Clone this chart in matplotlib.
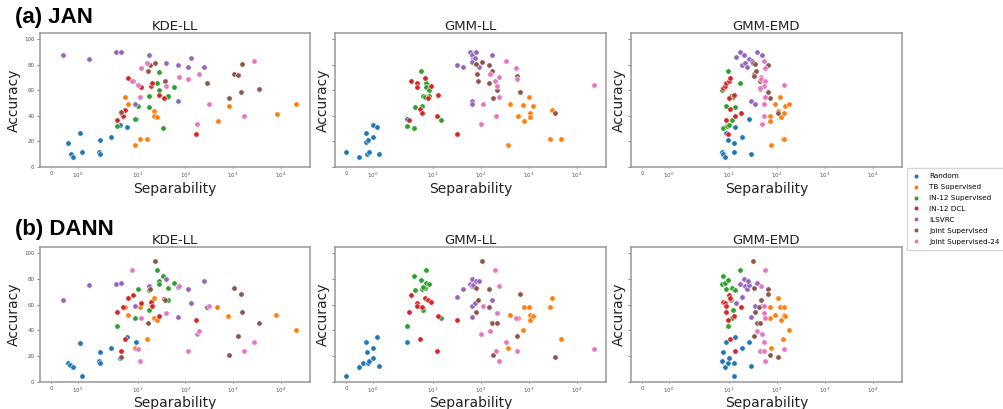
import matplotlib
matplotlib.use("Agg")
import matplotlib.pyplot as plt
from matplotlib.lines import Line2D
from matplotlib.ticker import NullLocator

GROUPS = ["Random", "TB Supervised", "IN-12 Supervised", "IN-12 DCL",
          "ILSVRC", "Joint Supervised", "Joint Supervised-24"]
COLORS = ["#1f77b4", "#ff7f0e", "#2ca02c", "#d62728",
          "#9467bd", "#8c564b", "#e377c2"]

X_TICKS = [0, 1, 10, 100, 1000, 10000]
X_TICK_LABELS = ["0", "$10^0$", "$10^1$", "$10^2$", "$10^3$", "$10^4$"]
Y_TICKS = [0, 20, 40, 60, 80, 100]

# ---- (a) JAN ----
jan_kde_sep = [
    [0.62, 0.74, 0.82, 1.1, 1.17, 1.8, 1.85, 1.85, 2.75, 4.3, 6.0, 9.3],
    [5.4, 6.3, 8.7, 11.3, 15.8, 22.6, 22, 25, 485, 815, 8150, 21000],
    [3.67, 8.7, 10.2, 17.2, 17.8, 25, 27.8, 28.5, 33.7, 43, 43, 57],
    [3.67, 4.6, 4.9, 5.4, 6.3, 8.0, 12, 19, 20.5, 27.8, 35.5, 168],
    [0.44, 1.43, 3.56, 4.4, 17.2, 39.6, 70.6, 132, 112, 251, 70.6, 8.7],
    [4.4, 16.6, 18.3, 23, 38.3, 282, 838, 1070, 1280, 1520, 1450, 3550],
    [7.7, 10.2, 11, 12, 15.8, 39.6, 75, 112, 191, 175, 310, 1700, 2760],
]
jan_kde_acc = [
    [19, 10.4, 7.8, 26.8, 12, 12, 10, 20.8, 23.2, 32.8, 31, 38],
    [54.7, 49.7, 17.2, 22, 22, 44, 40, 39, 36, 48, 41.7, 49],
    [32, 37.5, 48, 47, 55.7, 65.6, 60.4, 74.7, 30.2, 55, 56, 62.8],
    [37, 42.2, 39.8, 45, 69.8, 67.2, 62.8, 63.8, 65.9, 56.8, 54, 26],
    [88, 85, 90, 90, 88, 81.8, 80, 85.4, 78.4, 78.4, 52, 49],
    [43, 75, 79.7, 81.8, 67, 65.6, 54, 73, 72, 80.7, 58.9, 61],
    [67, 64.6, 54.7, 77.6, 81.3, 63.8, 70.6, 68.8, 73, 33.9, 49.7, 39.8, 82.8],
]

jan_gll_sep = [
    [0, 0.49, 0.74, 0.74, 0.8, 0.85, 0.83, 1.0, 1.0, 1.14, 1.22, 2.84],
    [364, 413, 608, 760, 790, 1000, 1050, 1080, 1230, 2760, 3130, 4750],
    [2.84, 4.0, 4.3, 5.66, 5.9, 6.3, 6.8, 7.2, 7.2, 8.1, 8.2, 14.6],
    [3.1, 3.5, 4.7, 4.7, 5.5, 6.0, 7.0, 9.0, 8.0, 12.7, 12.3, 32.6],
    [31.6, 42, 60, 64, 69, 75, 67, 80, 90, 175, 67, 65],
    [78, 82, 88, 107, 150, 145, 174, 215, 180, 562, 660, 3550],
    [99, 112, 154, 200, 215, 205, 234, 240, 330, 550, 560, 22600],
]
jan_gll_acc = [
    [12, 8, 19.3, 26.8, 10.4, 12, 20.8, 23.4, 32.8, 31.2, 10.4, 38],
    [17.2, 49.7, 40, 48.7, 36, 54.7, 42, 39, 48, 22, 44.3, 22],
    [32, 30.2, 46.9, 75, 48, 55.7, 55, 65.9, 62.8, 55.7, 60, 37.2],
    [37.2, 67.2, 65.9, 62.8, 45.3, 42.7, 69.8, 63.8, 54, 56.8, 40.1, 26],
    [80, 78.4, 90, 88, 84.4, 85.4, 82.3, 90, 78.4, 88, 52, 49],
    [81, 73, 67, 82, 79.7, 65.9, 75, 60.7, 54, 71.4, 59, 42.7],
    [33.9, 49.7, 73, 67.2, 63.5, 39.8, 54.7, 70.6, 82.8, 77.6, 68.8, 64.6],
]

jan_emd_sep = [
    [7.1, 7.4, 8.1, 8.6, 9.8, 10.2, 13.1, 12.9, 12.9, 19.2, 25.7, 28.3],
    [74, 71, 71, 93, 107, 114, 122, 134, 141, 144, 146, 177],
    [7.1, 8.1, 8.6, 7.4, 9.5, 9.3, 10.2, 11.7, 11.2, 12.2, 13.4, 16.7],
    [7.4, 8.1, 8.6, 10.2, 10.7, 10.2, 12.7, 10.7, 13.4, 17.7, 8.6, 9.8],
    [14.4, 16.8, 20.5, 19.2, 21.5, 23.7, 26.5, 37.7, 48.6, 29.6, 35.8, 30],
    [32.6, 35.8, 34, 36.6, 34, 43.7, 44, 65, 65, 71, 108, 47],
    [54, 56, 47, 46, 56, 53, 58, 54, 53, 49.6, 144, 44],
]
jan_emd_acc = [
    [12, 10.4, 7.8, 27, 20.8, 32.8, 31.2, 19, 12, 23.2, 38, 10.2],
    [17.2, 39.8, 36, 49.7, 43.5, 54.7, 39, 22, 22, 42, 48, 49],
    [60, 62.8, 48, 30.2, 75, 32, 32.8, 37.2, 55.7, 55, 46.9, 65.9],
    [62, 63.8, 65.9, 67.2, 69.8, 54, 56.8, 45.3, 39.8, 42.7, 37.2, 26],
    [86, 90, 88, 80, 81.8, 78.4, 84.6, 90, 88, 52, 49, 83],
    [81.8, 81, 73, 75, 71.4, 67, 61, 80, 59, 54, 42.7, 69.5],
    [82.8, 77.6, 70.6, 68.8, 67.2, 63.8, 54.7, 49.7, 39.8, 33.9, 64.6, 62],
]

# ---- (b) DANN ----
dann_kde_sep = [
    [0.62, 0.72, 0.82, 1.1, 1.17, 1.8, 1.85, 1.85, 2.75, 4.3, 6.0, 9.3],
    [5.4, 6.3, 8.7, 11.3, 15.8, 22.6, 22, 25, 470, 787, 7950, 21000],
    [3.67, 8.7, 10.2, 17.2, 17.8, 25, 28.5, 27.8, 33.7, 43, 43, 57],
    [3.67, 4.9, 4.6, 5.4, 6.3, 7.9, 12, 19, 20.5, 27.8, 35.5, 168],
    [0.44, 1.43, 3.56, 4.4, 17.2, 39.6, 70.6, 70.6, 132, 112, 251, 8.7],
    [4.4, 16.6, 18.3, 23, 38.3, 282, 838, 1070, 1280, 1450, 1520, 3550],
    [7.7, 10.2, 11, 12, 39.6, 75, 112, 175, 191, 310, 1700, 2760],
]
dann_kde_acc = [
    [14.3, 12.8, 11.5, 30.2, 4.4, 16.4, 14.3, 23.4, 26.3, 18.2, 34.4, 31.2],
    [58, 52, 26.3, 58, 33.3, 64.8, 49.5, 48, 58, 51, 52, 40],
    [43.2, 49.2, 72, 71.4, 56, 87, 78, 76.3, 82.3, 73.2, 63.3, 77],
    [54.2, 58, 24.2, 33.6, 65, 67.2, 61.2, 62.2, 59, 51, 64.3, 48.2],
    [63.3, 75.3, 76.3, 77, 74.2, 80.2, 73.7, 50, 61.2, 72.1, 78, 59],
    [19.3, 45.3, 72.1, 94, 63.3, 58, 21, 73.2, 35.2, 68.2, 54.2, 45.3],
    [87.2, 25.3, 16.4, 49.2, 53.4, 74.2, 24.2, 37.2, 39.3, 59.1, 24.2, 30.5],
]

dann_gll_sep = [
    [0, 0.49, 0.65, 0.74, 0.79, 0.83, 0.86, 1.0, 1.0, 1.14, 1.22, 2.84],
    [413, 364, 608, 760, 790, 1000, 1050, 1080, 1230, 2760, 3130, 4750],
    [2.84, 4.0, 4.3, 5.66, 5.9, 6.3, 6.8, 7.2, 7.2, 8.2, 14.6, 6.1],
    [3.1, 3.5, 4.7, 4.7, 5.5, 6.0, 7.0, 8.0, 9.0, 12.7, 12.3, 32.6],
    [31.6, 42, 60, 64, 67, 69, 80, 90, 67, 75, 67, 175],
    [107, 80, 88, 78, 145, 150, 174, 215, 180, 562, 660, 3550],
    [99, 112, 154, 200, 205, 215, 234, 240, 330, 550, 560, 22600],
]
dann_gll_acc = [
    [4.4, 11.5, 14.3, 30.5, 23.4, 14.3, 16.4, 18.5, 26.3, 34.4, 12.5, 31.2],
    [52, 26.3, 49.2, 40.4, 58, 58, 52, 48.2, 51, 58, 65, 33.3],
    [43.2, 82.3, 71.1, 79.2, 72.1, 56, 73.2, 77, 87, 76.3, 49.2, 74],
    [54.2, 67.2, 61.2, 59.1, 33.3, 58, 65, 63.3, 62.2, 51, 24.2, 48.2],
    [66.1, 72.1, 76.3, 74.2, 80.2, 75.3, 78, 78, 59.1, 61.2, 50, 63.3],
    [94, 73.2, 63.3, 54.2, 58, 72.1, 45.3, 45.3, 21, 35.2, 68.2, 19.3],
    [37.2, 59.1, 39.3, 87, 24.2, 53.4, 16.4, 74.2, 30.5, 49.2, 24.2, 25.3],
]

dann_emd_sep = [
    [12.6, 8.1, 7.1, 9.5, 10.2, 7.4, 8.6, 13.1, 12.9, 19.2, 25.7, 28.3],
    [74, 71, 71, 93, 107, 114, 122, 134, 141, 144, 146, 177],
    [7.4, 7.1, 8.1, 9.5, 8.6, 11.8, 13.1, 16.7, 11.2, 12.2, 11.7, 9.5],
    [7.4, 8.1, 8.6, 10.2, 10.7, 8.6, 17.7, 9.8, 12.7, 10.7, 13.4, 10.5],
    [16.8, 20.5, 21.5, 23.7, 26.5, 25.2, 37.7, 19.2, 14.4, 35.8, 29.6, 48.6],
    [31.6, 33, 65, 65, 47, 43, 35, 37.7, 44, 34, 71, 108],
    [56, 47, 54, 53, 56, 39, 49.6, 54, 44, 53, 58, 144],
]
dann_emd_acc = [
    [4.4, 11.5, 16.4, 14.3, 18.2, 23.4, 30.5, 34.4, 14.3, 26.3, 31.2, 12.5],
    [26.3, 58, 49.2, 52, 65, 58, 48.2, 33.3, 58, 52, 51, 40.4],
    [82.3, 76.3, 77, 79.2, 72.1, 73.2, 71.1, 87, 63.3, 56, 49.2, 43.2],
    [62.2, 61.2, 59.1, 67.2, 64.3, 54.2, 58, 48.2, 51, 33.3, 24.2, 65],
    [76.3, 80.2, 74.2, 72.1, 75.3, 78, 77, 66.1, 61.2, 59.1, 50, 59.1],
    [94, 73.2, 72.1, 68.2, 63.3, 58, 54.2, 45.3, 45.3, 35.2, 21, 19.3],
    [87, 74.2, 59.1, 53.4, 49.2, 39.3, 37.2, 30.5, 24.2, 24.2, 16.4, 25.3],
]

PANEL_TITLES = ["KDE-LL", "GMM-LL", "GMM-EMD"]

W, H = 1004, 409
fig = plt.figure(figsize=(W / 100, H / 100), dpi=100)

# axes boxes in pixels (left, right) per column and (top, bottom) per row
cols = [(40, 310), (335, 606), (631, 902)]
rows = [
    ("(a) JAN", 33, 167, 23,
     [(jan_kde_sep, jan_kde_acc), (jan_gll_sep, jan_gll_acc), (jan_emd_sep, jan_emd_acc)]),
    ("(b) DANN", 246.7, 381.7, 235,
     [(dann_kde_sep, dann_kde_acc), (dann_gll_sep, dann_gll_acc), (dann_emd_sep, dann_emd_acc)]),
]

for row_title, top, bottom, title_base, panels in rows:
    fig.text(15 / W, 1 - title_base / H, row_title, fontsize=16, fontweight="bold",
             family="Liberation Sans", va="baseline", ha="left")
    for c, ((left, right), (seps, accs), name) in enumerate(zip(cols, panels, PANEL_TITLES)):
        ax = fig.add_axes([left / W, 1 - bottom / H, (right - left) / W, (bottom - top) / H])
        for sep, acc, color in zip(seps, accs, COLORS):
            ax.scatter(sep, acc, s=15, color=color, edgecolors="white", linewidths=0.4, zorder=3)
        ax.set_xscale("symlog", linthresh=2)
        ax.set_xlim(-0.42, 4.1e4)
        ax.set_ylim(0, 105)
        ax.set_xticks(X_TICKS)
        ax.set_xticklabels(X_TICK_LABELS)
        ax.xaxis.set_minor_locator(NullLocator())
        ax.set_yticks(Y_TICKS)
        ax.tick_params(axis="both", labelsize=4, colors="#555555", pad=2, width=0.5)
        ax.tick_params(axis="x", length=0.8)
        ax.tick_params(axis="y", length=2)
        if c > 0:
            ax.tick_params(axis="y", labelleft=False)
        for spine in ax.spines.values():
            spine.set_color("#999999")
            spine.set_linewidth(1.1)
        ax.set_title(name, fontsize=9.5, pad=2, color="#222222")
        ax.set_xlabel("Separability", fontsize=10, labelpad=1, color="#222222")
        ax.set_ylabel("Accuracy", fontsize=10, labelpad=2, color="#222222")

handles = [Line2D([], [], marker="o", linestyle="", markersize=3.2, color=col,
                  markeredgecolor="white", markeredgewidth=0.3) for col in COLORS]
fig.legend(handles, GROUPS, loc="upper left", bbox_to_anchor=(907 / W, 1 - 168 / H),
           fontsize=5.2, frameon=True, edgecolor="#cccccc", fancybox=False,
           handlelength=1.0, handletextpad=1.4, labelspacing=0.68, borderpad=0.7,
           borderaxespad=0)

fig.savefig("out.png", dpi=100, facecolor="white")
